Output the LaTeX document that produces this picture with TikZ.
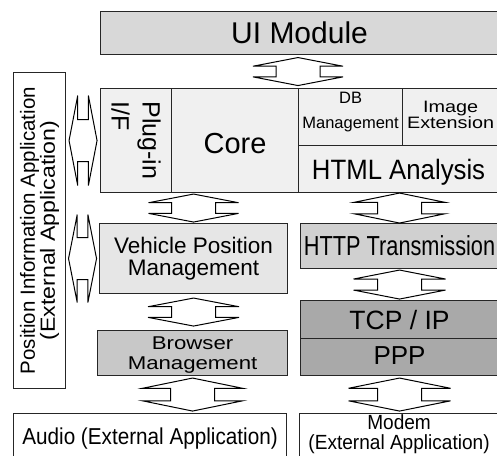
\documentclass[tikz,border=0pt]{standalone}
\usepackage{fontspec}
\setmainfont{Liberation Sans}
\usepackage{graphicx}
\usetikzlibrary{calc}

% fills of the layers
\definecolor{uifill}{HTML}{D8D8D8}
\definecolor{corefill}{HTML}{F0F0F0}
\definecolor{vpmfill}{HTML}{E6E6E6}
\definecolor{httpfill}{HTML}{D0D0D0}
\definecolor{brwfill}{HTML}{C8C8C8}
\definecolor{tcpfill}{HTML}{A9A9A9}
\definecolor{edgecol}{HTML}{262626}

% font size in pt and baseline skip
\newcommand\fs[2]{\fontsize{#1pt}{#2pt}\selectfont}
% horizontal stretch of a piece of text
\newcommand\hsq[2]{\scalebox{#1}[1]{#2}}

\tikzset{
  box/.style={draw=edgecol, line width=1.1pt, inner sep=0pt, anchor=north west},
  txt/.style={inner sep=0pt, align=center, text=black},
  blk/.style={draw=black, line width=1pt, fill=white, line join=miter},
  % vertical double block arrow: half head width, half length
  pics/varrow/.style 2 args={code={
    \pgfmathsetmacro\arwS{0.38*#2}
    \draw[blk] (0,-#2) -- (#1,-\arwS) -- (22,-\arwS) -- (22,\arwS) -- (#1,\arwS)
      -- (0,#2) -- (-#1,\arwS) -- (-22,\arwS) -- (-22,-\arwS) -- (-#1,-\arwS) -- cycle;
  }},
  % horizontal double block arrow: half head width, half length
  pics/harrow/.style 2 args={code={
    \pgfmathsetmacro\arwS{0.38*#2}
    \draw[blk] (-#2,0) -- (-\arwS,-#1) -- (-\arwS,-21) -- (\arwS,-21) -- (\arwS,-#1)
      -- (#2,0) -- (\arwS,#1) -- (\arwS,21) -- (-\arwS,21) -- (-\arwS,#1) -- cycle;
  }},
}

\begin{document}
\begin{tikzpicture}[x=1pt,y=-1pt]
\useasboundingbox (0,0) rectangle (497,455);
\clip (0,0) rectangle (497,455);

% ---- boxes ----
\node[box, fill=uifill, minimum width=398pt, minimum height=43pt] (ui) at (100,11) {};
\node[box, fill=white, minimum width=52pt, minimum height=316pt] (pos) at (13,72) {};

\node[box, fill=corefill, minimum width=71pt, minimum height=104pt] (plug) at (100,88) {};
\node[box, fill=corefill, minimum width=127pt, minimum height=104pt] (corebox) at (171,88) {};
\node[box, fill=corefill, minimum width=104pt, minimum height=57pt] (db) at (298,88) {};
\node[box, fill=corefill, minimum width=96pt, minimum height=57pt] (img) at (402,88) {};
\node[box, fill=corefill, minimum width=200pt, minimum height=47pt] (html) at (298,145) {};

\node[box, fill=vpmfill, minimum width=188pt, minimum height=70pt] (vpm) at (99,223) {};
\node[box, fill=httpfill, minimum width=198pt, minimum height=45pt] (http) at (300,223) {};
\node[box, fill=tcpfill, minimum width=198pt, minimum height=38pt] (tcp) at (300,300) {};
\node[box, fill=tcpfill, minimum width=198pt, minimum height=37pt] (ppp) at (300,338) {};
\node[box, fill=brwfill, minimum width=190pt, minimum height=45pt] (browser) at (97,330) {};
\node[box, fill=white, minimum width=273pt, minimum height=60pt] (audio) at (13,413) {};
\node[box, fill=white, minimum width=199pt, minimum height=60pt] (modem) at (299,413) {};

% ---- texts ----
\node[txt, font=\fs{30}{34}] (tui) at (ui.center) {UI Module};
\node[txt, font=\fs{20.5}{20}, rotate=90] (tpos) at (pos.center)
  {Position Information Application\\\hsq{1.13}{(External Application)}};
\node[txt, font=\fs{25}{31}, rotate=-90, align=left] (tplug) at (plug.center) {Plug-in\\I/F};
\node[txt, font=\fs{29}{32}, yshift=-3pt] (tcore) at (corebox.center) {Core};
\node[txt, font=\fs{16.5}{20}, anchor=base] (tdb1) at ($(db.north)+(0,15)$) {DB};
\node[txt, font=\fs{16.5}{20}, anchor=base] (tdb2) at ($(db.north)+(0,40)$) {Management};
\node[txt, font=\fs{16.5}{20}, anchor=base] (timg1) at ($(img.north)+(0,24)$) {\hsq{1.2}{Image}};
\node[txt, font=\fs{16.5}{20}, anchor=base] (timg2) at ($(img.north)+(0,40)$) {\hsq{1.2}{Extension}};
\node[txt, font=\fs{28}{32}, yshift=-3pt] (thtml) at (html.center) {\hsq{0.92}{HTML Analysis}};
\node[txt, font=\fs{22.5}{22.7}] (tvpm) at (vpm.center) {Vehicle Position\\Management};
\node[txt, font=\fs{27.5}{30}] (thttp) at (http.center) {\hsq{0.79}{HTTP Transmission}};
\node[txt, font=\fs{26.5}{30}] (ttcp) at (tcp.center) {TCP / IP};
\node[txt, font=\fs{26}{30}, yshift=2pt] (tppp) at (ppp.center) {PPP};
\node[txt, font=\fs{18.5}{20}, yshift=-2pt] (tbrw) at (browser.center)
  {\hsq{1.2}{Browser}\\\hsq{1.2}{Management}};
\node[txt, font=\fs{23}{26}] (taudio) at ($(audio.north)+(0,26)$)
  {\hsq{0.9}{Audio (External Application)}};
\node[txt, font=\fs{20.5}{20}] (tmodem) at ($(modem.north)+(0,21)$)
  {\hsq{0.93}{Modem}\\\hsq{0.93}{(External Application)}};

% ---- block arrows between the layers ----
\pic at ($(ui.south -| db.west)!0.5!(db.north west)$) {varrow={45}{14}};
\pic at ($(corebox.south -| vpm.north)!0.5!(vpm.north)$) {varrow={45}{14}};
\pic at ($(html.south -| http.north)!0.5!(http.north)$) {varrow={45.5}{15}};
\pic at ($(http.south)!0.5!(tcp.north)$) {varrow={46}{14.5}};
\pic at ($(vpm.south)!0.5!(vpm.south |- browser.north)$) {varrow={45.5}{14}};
\pic at ($(browser.south)!0.5!(browser.south |- audio.north)$) {varrow={50}{16.5}};
\pic at ($(ppp.south)!0.5!(ppp.south |- modem.north)$) {varrow={51}{16.5}};
\pic at ($(pos.east |- plug.west)!0.5!(plug.west)$) {harrow={45}{14}};
\pic at ($(pos.east |- vpm.west)!0.5!(vpm.west)$) {harrow={44}{14}};
\end{tikzpicture}
\end{document}
